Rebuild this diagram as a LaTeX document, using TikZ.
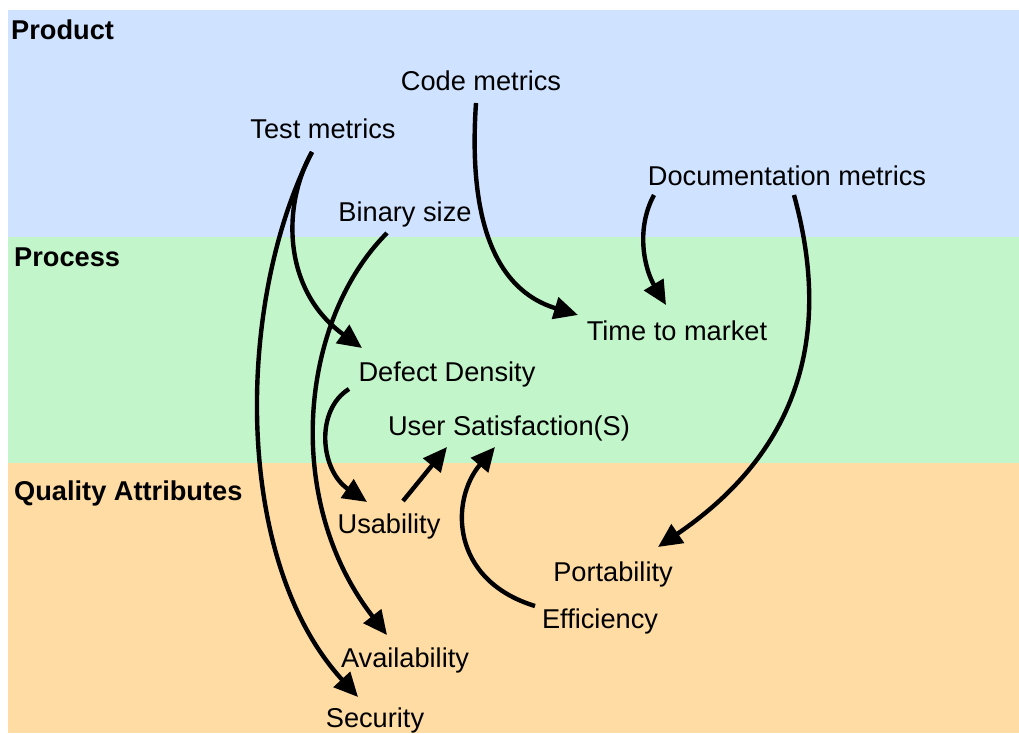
\documentclass[tikz,border=0pt]{standalone}
\usepackage{fontspec}
\setmainfont{Liberation Sans}
\usetikzlibrary{arrows.meta}
\definecolor{prodbg}{RGB}{207,226,255}
\definecolor{procbg}{RGB}{194,245,202}
\definecolor{qualbg}{RGB}{255,220,164}
\begin{document}
\begin{tikzpicture}[x=1pt,y=-1pt,
  lbl/.style={anchor=base, inner sep=0pt, font=\fontsize{27.2}{32}\selectfont},
  bandlbl/.style={anchor=base west, inner sep=0pt, font=\fontsize{27.2}{32}\selectfont\bfseries},
  conn/.style={line width=4.4pt, -{Triangle[length=24pt,width=22pt]}}]
\useasboundingbox (0,0) rectangle (1019,733);
\fill[prodbg] (7.5,10) rectangle (1019,237);
\fill[procbg] (7.5,237) rectangle (1019,463);
\fill[qualbg] (7.5,463) rectangle (1019,733);
\node[bandlbl] (bprod) at (11,40) {Product};
\node[bandlbl] (bproc) at (14,266) {Process};
\node[bandlbl] (bqual) at (14,500) {Quality Attributes};
\node[lbl] (code) at (481,91) {Code metrics};
\node[lbl] (test) at (323,139) {Test metrics};
\node[lbl] (doc) at (787,185) {Documentation metrics};
\node[lbl] (bin) at (405,221) {Binary size};
\node[lbl] (time) at (677,340) {Time to market};
\node[lbl] (defect) at (447,381) {Defect Density};
\node[lbl] (usat) at (509,435) {User Satisfaction(S)};
\node[lbl] (usab) at (389,533) {Usability};
\node[lbl] (port) at (613,581) {Portability};
\node[lbl] (eff) at (600,628) {Efficiency};
\node[lbl] (avail) at (405,667) {Availability};
\node[lbl] (sec) at (375,727) {Security};
% connectors
\draw[conn] ([shift={(-5,12)}]code.base) .. controls (468,220) and (495,290) .. ([shift={(-99,-25)}]time.base);
\draw[conn] ([shift={(-133,10)}]doc.base) .. controls (635,230) and (645,270) .. ([shift={(-11,-35)}]time.base);
\draw[conn] ([shift={(7,10)}]doc.base) .. controls (820,290) and (830,430) .. ([shift={(45,-34)}]port.base);
\draw[conn] ([shift={(-11,13)}]test.base) .. controls (282,205) and (282,290) .. ([shift={(-85,-33)}]defect.base);
\draw[conn] ([shift={(-11,13)}]test.base) .. controls (236,300) and (232,560) .. ([shift={(-17,-30)}]sec.base);
\draw[conn] ([shift={(-18,12)}]bin.base) .. controls (300,320) and (282,500) .. ([shift={(-18,-32)}]avail.base);
\draw[conn] ([shift={(-98,8)}]defect.base) .. controls (315,410) and (320,470) .. ([shift={(-22,-31)}]usab.base);
\draw[conn] ([shift={(14,-32)}]usab.base) -- ([shift={(-62,12)}]usat.base);
\draw[conn] ([shift={(-65,-22)}]eff.base) .. controls (450,580) and (450,500) .. ([shift={(-14,12)}]usat.base);
\end{tikzpicture}
\end{document}
